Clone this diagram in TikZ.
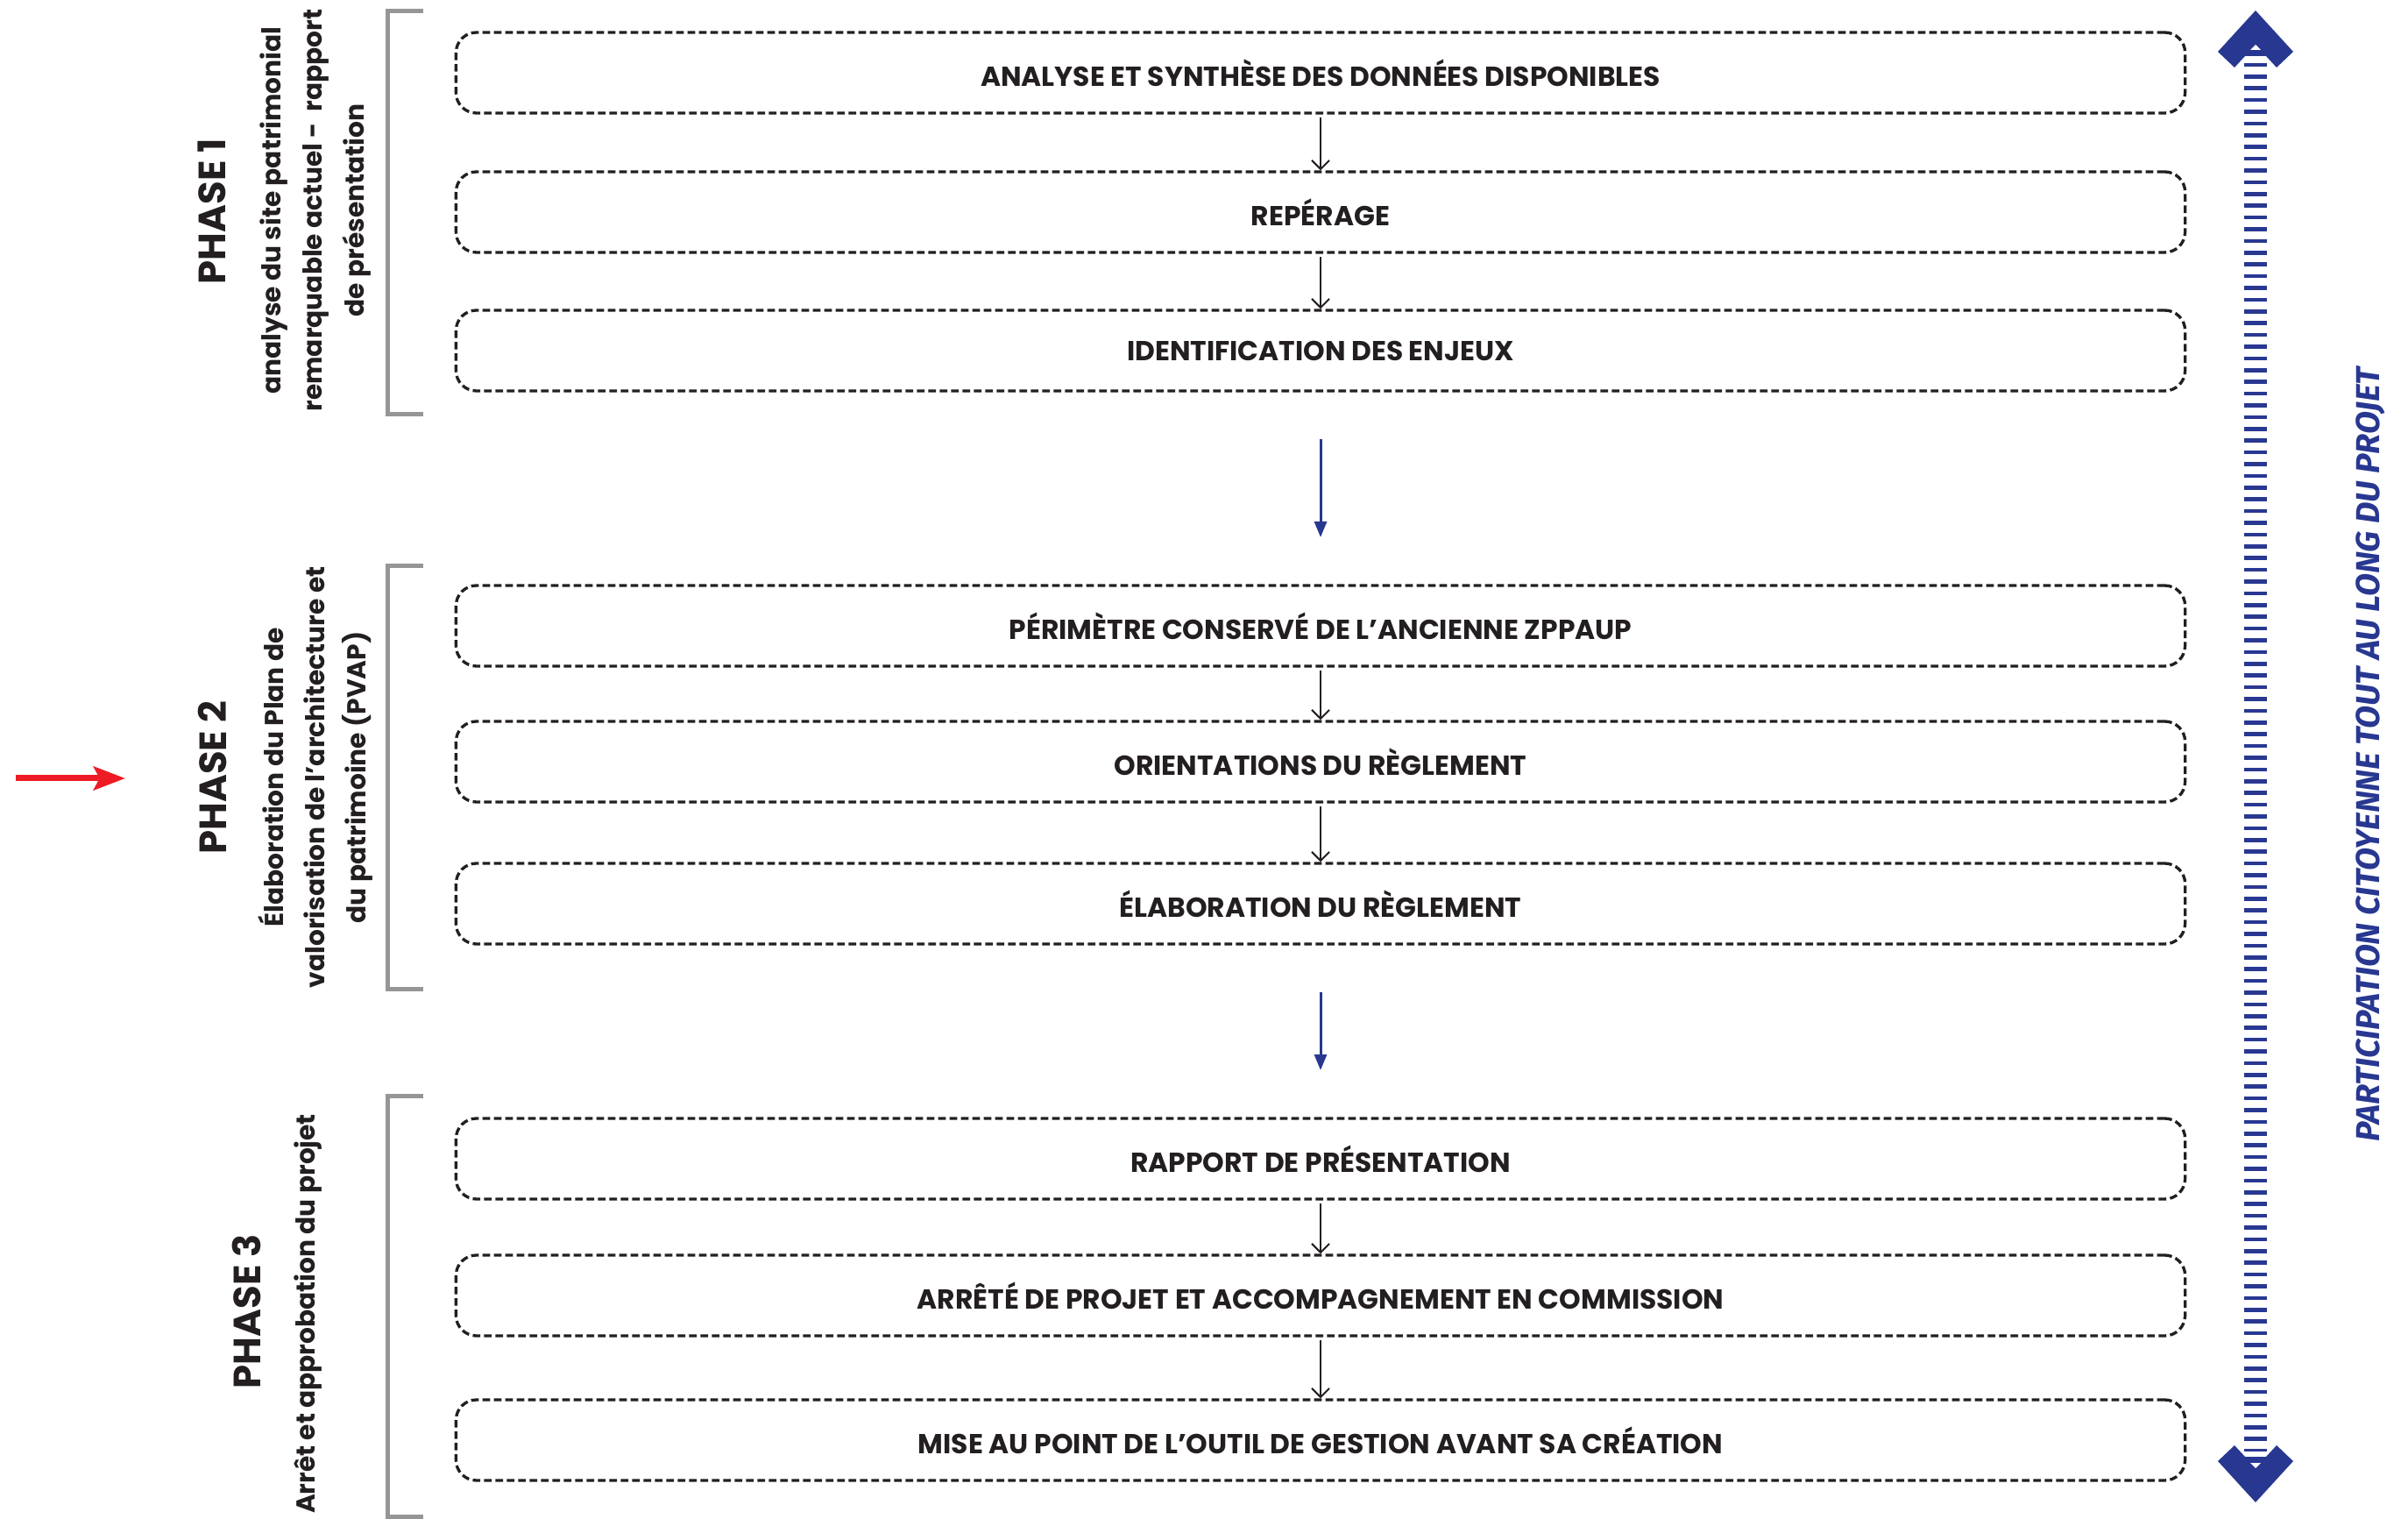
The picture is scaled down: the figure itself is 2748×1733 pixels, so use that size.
\documentclass[tikz,border=0pt]{standalone}
\usepackage{fontspec}
\setmainfont{Poppins}
\newfontfamily\partfont{Fira Sans}
\usetikzlibrary{arrows.meta}
\definecolor{inkdark}{RGB}{35,31,32}
\definecolor{partblue}{RGB}{40,56,145}
\definecolor{markred}{RGB}{237,28,36}
\definecolor{brackgray}{RGB}{150,150,150}
\tikzset{every picture/.style={line width=0.75pt}}
\tikzset{
  stepbox/.style={draw=inkdark, dash pattern=on 2.6pt off 1.3pt, line width=1pt, rounded corners=7pt, minimum width=592pt, minimum height=27.6pt, inner sep=0pt, text=inkdark, font=\fontsize{9.4}{11}\selectfont\bfseries},
  steparrow/.style={draw=inkdark, -{Straight Barb[length=3pt,width=6pt]}, line width=0.6pt, shorten <=1pt},
  phasearrow/.style={draw=partblue, -{Triangle[length=5.4pt,width=4.2pt]}, line width=0.9pt, shorten <=16pt, shorten >=16pt},
  phasetitle/.style={rotate=90, inner sep=0pt, text=inkdark, font=\fontsize{13}{15}\selectfont\bfseries},
  phasesub/.style={rotate=90, inner sep=0pt, align=center, text=inkdark, font=\fontsize{8.9}{14.2}\selectfont\bfseries},
  parttext/.style={rotate=90, inner sep=0pt, text=partblue, font=\partfont\fontsize{11.35}{12}\selectfont\bfseries\itshape},
  brack/.style={draw=brackgray, line width=1.5pt},
}

\begin{document}
\begin{tikzpicture}[x=0.3pt,y=0.3pt,yscale=-1,xscale=1]
\useasboundingbox (0,0) rectangle (2748,1733);

%Shape: Brackets of the phases
\draw [brack] (483,13) -- (442,13) -- (442,473) -- (483,473) ;
\draw [brack] (483,646) -- (442,646) -- (442,1128) -- (483,1128) ;
\draw [brack] (483,1250) -- (442,1250) -- (442,1730) -- (483,1730) ;

% Text Node
\node [phasetitle] (ph1) at (242,241) {PHASE 1};
\node [phasesub] (sub1) at (360,240) {analyse du site patrimonial\\remarquable actuel -\ \ rapport\\de présentation};
% Text Node
\node [phasetitle] (ph2) at (242,887) {PHASE 2};
\node [phasesub] (sub2) at (360,887) {Élaboration du Plan de\\valorisation de l’architecture et\\du patrimoine (PVAP)};
% Text Node
\node [phasetitle] (ph3) at (281,1496) {PHASE 3};
\node [phasesub] (sub3) at (352,1499) {Arrêt et approbation du projet};

%Shape: Steps
\node [stepbox] (b1) at (1507,83) {ANALYSE ET SYNTHÈSE DES DONNÉES DISPONIBLES};
\node [stepbox] (b2) at (1507,242) {REPÉRAGE};
\node [stepbox] (b3) at (1507,400) {IDENTIFICATION DES ENJEUX};
\node [stepbox] (b4) at (1507,714) {PÉRIMÈTRE CONSERVÉ DE L’ANCIENNE ZPPAUP};
\node [stepbox] (b5) at (1507,869) {ORIENTATIONS DU RÈGLEMENT};
\node [stepbox] (b6) at (1507,1031) {ÉLABORATION DU RÈGLEMENT};
\node [stepbox] (b7) at (1507,1322) {RAPPORT DE PRÉSENTATION};
\node [stepbox] (b8) at (1507,1478) {ARRÊTÉ DE PROJET ET ACCOMPAGNEMENT EN COMMISSION};
\node [stepbox] (b9) at (1507,1643) {MISE AU POINT DE L’OUTIL DE GESTION AVANT SA CRÉATION};

%Straight Lines
\draw [steparrow] (b1.south) -- (b2.north) ;
\draw [steparrow] (b2.south) -- (b3.north) ;
\draw [steparrow] (b4.south) -- (b5.north) ;
\draw [steparrow] (b5.south) -- (b6.north) ;
\draw [steparrow] (b7.south) -- (b8.north) ;
\draw [steparrow] (b8.south) -- (b9.north) ;
%Straight Lines
\draw [phasearrow] (b3.south) -- (b4.north) ;
\draw [phasearrow] (b6.south) -- (b7.north) ;

%Straight Lines
\coordinate (redtail) at (18,888) ;
\coordinate (redtip) at (143,888) ;
\draw [draw=markred, line width=2.1pt, -{Stealth[length=10.8pt,width=8pt,inset=2pt]}] (redtail) -- (redtip) ;

%Shape: Double arrow
\coordinate (parttop) at (2574,71.7) ;
\coordinate (partbot) at (2574,1656) ;
\draw [draw=partblue, line width=7.8pt, dash pattern=on 1.35pt off 2.67pt] (parttop) -- (partbot) ;
\fill [partblue] (2574,12) -- (2617,59) -- (2598,77) -- (2586,64) -- (2562,64) -- (2550,77) -- (2531,59) -- cycle ;
\fill [white] (2568,57) -- (2574,51) -- (2580,57) -- cycle ;
\fill [partblue] (2574,1714) -- (2617,1667) -- (2598,1649) -- (2586,1662) -- (2562,1662) -- (2550,1649) -- (2531,1667) -- cycle ;
\fill [white] (2568,1669) -- (2574,1675) -- (2580,1669) -- cycle ;

% Text Node
\node [parttext] (part) at (2705,861) {PARTICIPATION CITOYENNE TOUT AU LONG DU PROJET};

\end{tikzpicture}
\end{document}
